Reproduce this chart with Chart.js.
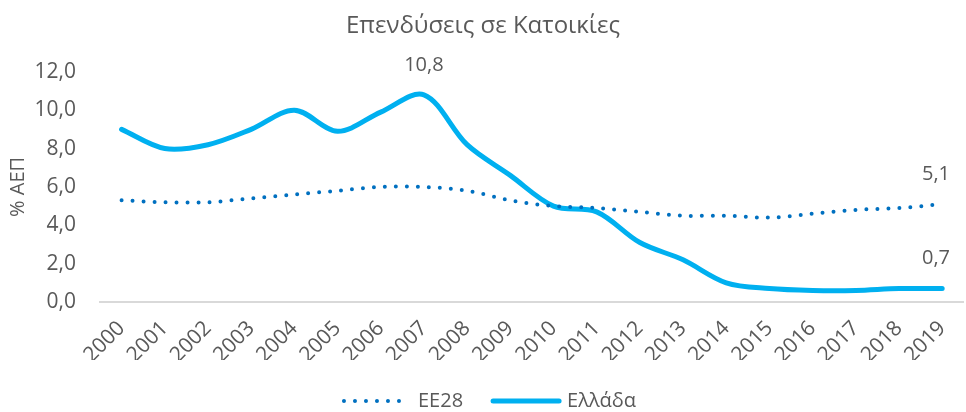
<!DOCTYPE html>
<html>
<head>
<meta charset="utf-8">
<script src="https://cdn.jsdelivr.net/npm/chart.js@4.4.1/dist/chart.umd.min.js"></script>
<style>
  html, body { margin: 0; padding: 0; background: #fff; }
  #wrap { width: 966px; height: 412px; }
</style>
</head>
<body>
<div id="wrap"><canvas id="invest"></canvas></div>
<script>
// data (% of GDP)
const years = ['2000', '2001', '2002', '2003', '2004', '2005', '2006', '2007', '2008', '2009',
               '2010', '2011', '2012', '2013', '2014', '2015', '2016', '2017', '2018', '2019'];
const eu28 = [5.3, 5.2, 5.2, 5.4, 5.6, 5.8, 6.0, 6.0, 5.8, 5.3,
              5.0, 4.9, 4.7, 4.5, 4.5, 4.4, 4.6, 4.8, 4.9, 5.1];
const greece = [9.0, 8.0, 8.2, 9.0, 10.0, 8.9, 9.9, 10.8, 8.2, 6.6,
                5.0, 4.7, 3.1, 2.2, 1.0, 0.7, 0.6, 0.6, 0.7, 0.7];
const seriesNames = ['EE28', 'Ελλάδα'];
const yTickMin = 0;
const yTickMax = 12;
const yTickStep = 2;
// [dataset, year index] of the points that carry a value label
const labelledPoints = [[1, 7], [0, 19], [1, 19]];

const fontFamily = '"Open Sans", "DejaVu Sans", sans-serif';
const textColor = '#595959';

function fmt(v) {
    return Number(v).toFixed(1).replace('.', ',');   // greek decimal comma
}

// draws the value labels above the chosen points
const valueLabels = {
    id: 'valueLabels',
    afterDatasetsDraw(chart) {
        const ctx = chart.ctx;
        ctx.save();
        ctx.font = '20px ' + fontFamily;
        ctx.fillStyle = textColor;
        ctx.textBaseline = 'middle';
        ctx.textAlign = 'center';
        labelledPoints.forEach(([ds, i]) => {
            const pt = chart.getDatasetMeta(ds).data[i];
            const text = fmt(chart.data.datasets[ds].data[i]);
            const w = ctx.measureText(text).width;
            let x = pt.x;
            if (x + w / 2 > chart.width - 16) x = chart.width - 16 - w / 2;   // keep inside the right edge
            ctx.fillText(text, x, pt.y - 30);
        });
        ctx.restore();
    }
};

// legend at the bottom, drawn by hand so the dotted sample keeps its dots
const bottomLegend = {
    id: 'bottomLegend',
    afterDraw(chart) {
        const ctx = chart.ctx;
        const sample = 70, gap = 6, between = 28, y = 401;
        ctx.save();
        ctx.font = '20px ' + fontFamily;
        const items = chart.data.datasets.map(ds => ({ds, w: ctx.measureText(ds.label).width}));
        const total = items.reduce((s, it) => s + sample + gap + it.w, 0) + between * (items.length - 1);
        let x = chart.width / 2 + 6 - total / 2;
        items.forEach(({ds, w}) => {
            ctx.beginPath();
            ctx.strokeStyle = ds.borderColor;
            ctx.lineWidth = ds.borderWidth;
            ctx.lineCap = 'round';
            ctx.setLineDash(ds.borderDash || []);
            ctx.moveTo(x + 2, y);
            ctx.lineTo(x + sample - 2, y);
            ctx.stroke();
            ctx.setLineDash([]);
            ctx.fillStyle = textColor;
            ctx.textBaseline = 'middle';
            ctx.textAlign = 'left';
            ctx.fillText(ds.label, x + sample + gap, y);
            x += sample + gap + w + between;
        });
        ctx.restore();
    }
};

new Chart(document.getElementById('invest'), {
    type: 'line',
    data: {
        labels: years,
        datasets: [
            {
                label: seriesNames[0], data: eu28,
                borderColor: '#0070c0', backgroundColor: '#0070c0',
                borderWidth: 4, borderDash: [0, 11], borderCapStyle: 'round',
                pointRadius: 0, tension: 0.33, fill: false
            },
            {
                label: seriesNames[1], data: greece,
                borderColor: '#00b0f0', backgroundColor: '#00b0f0',
                borderWidth: 5, borderCapStyle: 'round', borderJoinStyle: 'round',
                pointRadius: 0, tension: 0.33, fill: false
            }
        ]
    },
    options: {
        responsive: true,
        maintainAspectRatio: false,
        animation: false,
        layout: {padding: {left: 0, right: 0, top: 0, bottom: 52}},
        plugins: {
            title: {
                display: true, text: 'Επενδύσεις σε Κατοικίες', color: textColor,
                font: {family: fontFamily, size: 24, weight: 'normal'},
                padding: {top: 12, bottom: 31}
            },
            legend: {display: false},
            tooltip: {enabled: false}
        },
        scales: {
            x: {
                offset: true,
                grid: {display: false},
                border: {color: '#d9d9d9', width: 2},
                ticks: {color: textColor, font: {family: fontFamily, size: 21}, minRotation: 45, maxRotation: 45, padding: 6},
                afterFit(scale) { scale.height = 58; }
            },
            y: {
                min: yTickMin, max: yTickMax,
                grid: {display: false},
                border: {display: false},
                ticks: {stepSize: yTickStep, color: textColor, font: {family: fontFamily, size: 21}, padding: 16,
                        callback: v => fmt(v)},
                title: {display: true, text: '% ΑΕΠ', color: textColor, font: {family: fontFamily, size: 20},
                        padding: {top: 6, bottom: 0}},
                afterFit(scale) { scale.width = 100; }
            }
        }
    },
    plugins: [valueLabels, bottomLegend]
});
</script>
</body>
</html>
